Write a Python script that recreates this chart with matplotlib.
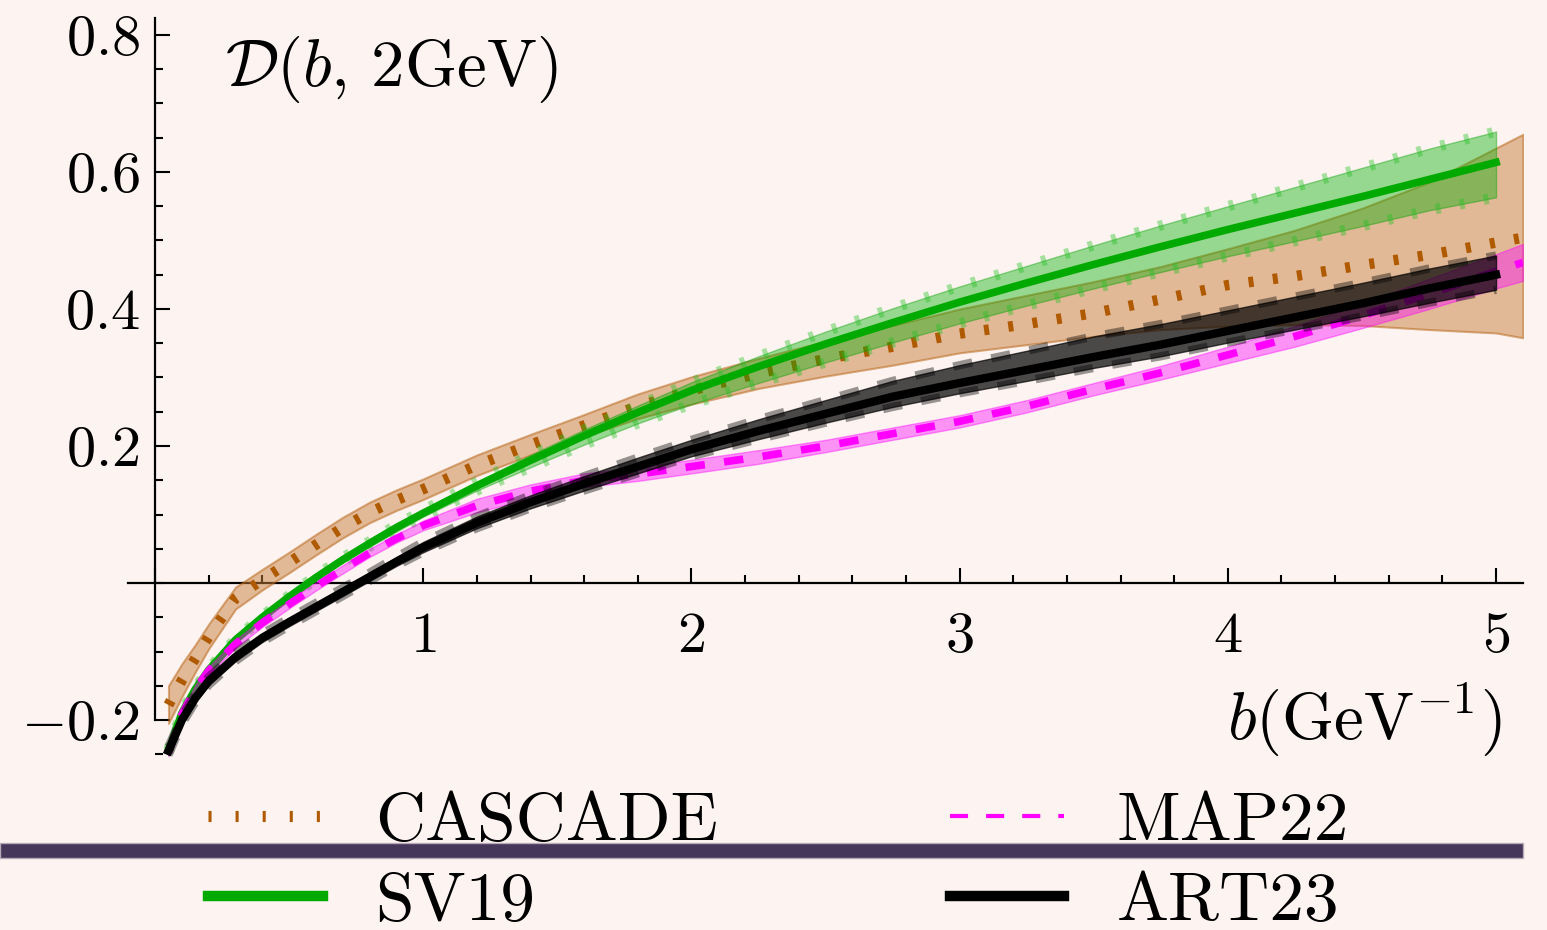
import matplotlib
matplotlib.use("Agg")
import matplotlib.pyplot as plt
from matplotlib.lines import Line2D
from matplotlib.patches import Rectangle
from matplotlib.ticker import FixedLocator, FixedFormatter, MultipleLocator

plt.rcParams['font.family'] = 'serif'
plt.rcParams['font.serif'] = ['cmr10']
plt.rcParams['mathtext.fontset'] = 'cm'
plt.rcParams['axes.formatter.use_mathtext'] = True
plt.rcParams['lines.scale_dashes'] = False

# ---------------- data ----------------
b_grid = [0.05, 0.1, 0.15, 0.2, 0.3, 0.4, 0.5, 0.6, 0.7, 0.8, 0.9, 1.0, 1.2, 1.4, 1.6,
          1.8, 2.0, 2.25, 2.5, 2.75, 3.0, 3.25, 3.5, 3.75, 4.0, 4.25, 4.5, 4.75, 5.0]
b_long = b_grid + [5.1]

cascade_c = [-0.178, -0.142, -0.110, -0.078, -0.022, 0.005, 0.030, 0.056, 0.081, 0.103, 0.121,
             0.137, 0.172, 0.202, 0.230, 0.258, 0.281, 0.306, 0.327, 0.345, 0.364, 0.378,
             0.394, 0.414, 0.435, 0.448, 0.464, 0.479, 0.497, 0.504]
cascade_lo = [-0.205, -0.166, -0.130, -0.096, -0.038, -0.010, 0.015, 0.041, 0.066, 0.088, 0.106,
              0.122, 0.157, 0.187, 0.214, 0.240, 0.261, 0.284, 0.302, 0.318, 0.336, 0.348,
              0.360, 0.370, 0.375, 0.377, 0.376, 0.370, 0.365, 0.358]
cascade_hi = [-0.150, -0.118, -0.090, -0.060, -0.006, 0.020, 0.045, 0.071, 0.096, 0.118, 0.136,
              0.152, 0.187, 0.217, 0.246, 0.276, 0.301, 0.328, 0.353, 0.376, 0.400, 0.420,
              0.440, 0.462, 0.488, 0.515, 0.547, 0.585, 0.635, 0.655]

sv19_c = [-0.245, -0.190, -0.155, -0.127, -0.083, -0.050, -0.020, 0.008, 0.034, 0.058, 0.081,
          0.102, 0.142, 0.179, 0.215, 0.249, 0.281, 0.316, 0.349, 0.380, 0.410, 0.438, 0.465,
          0.491, 0.516, 0.540, 0.564, 0.589, 0.614]
sv19_hi = [-0.243, -0.188, -0.153, -0.125, -0.081, -0.048, -0.018, 0.011, 0.037, 0.061, 0.085,
           0.106, 0.148, 0.187, 0.224, 0.259, 0.293, 0.331, 0.367, 0.401, 0.433, 0.463, 0.493,
           0.522, 0.550, 0.578, 0.606, 0.634, 0.659]
sv19_lo = [-0.247, -0.192, -0.157, -0.129, -0.085, -0.052, -0.022, 0.005, 0.030, 0.053, 0.075,
           0.097, 0.135, 0.169, 0.202, 0.233, 0.261, 0.292, 0.322, 0.351, 0.379, 0.405, 0.430,
           0.454, 0.477, 0.499, 0.521, 0.544, 0.563]

map22_c = [-0.248, -0.192, -0.155, -0.128, -0.089, -0.058, -0.031, -0.005, 0.020, 0.044, 0.065,
           0.084, 0.113, 0.134, 0.150, 0.159, 0.170, 0.184, 0.200, 0.218, 0.236, 0.258, 0.283,
           0.307, 0.333, 0.360, 0.390, 0.422, 0.455, 0.468]
map22_hi = [-0.243, -0.186, -0.149, -0.122, -0.083, -0.052, -0.025, 0.001, 0.026, 0.050, 0.071,
            0.091, 0.123, 0.144, 0.160, 0.169, 0.180, 0.194, 0.209, 0.227, 0.245, 0.267, 0.292,
            0.317, 0.345, 0.375, 0.408, 0.444, 0.480, 0.495]
map22_lo = [-0.253, -0.198, -0.161, -0.134, -0.095, -0.064, -0.037, -0.011, 0.014, 0.038, 0.059,
            0.077, 0.103, 0.124, 0.140, 0.149, 0.160, 0.174, 0.191, 0.209, 0.227, 0.249, 0.274,
            0.297, 0.321, 0.345, 0.372, 0.400, 0.430, 0.441]

art23_c = [-0.245, -0.200, -0.168, -0.143, -0.108, -0.080, -0.057, -0.035, -0.013, 0.009, 0.031,
           0.052, 0.088, 0.118, 0.145, 0.170, 0.195, 0.222, 0.247, 0.272, 0.292, 0.311, 0.330,
           0.348, 0.368, 0.388, 0.408, 0.430, 0.450]
art23_hi = [-0.239, -0.194, -0.162, -0.137, -0.102, -0.074, -0.051, -0.029, -0.007, 0.015, 0.038,
            0.060, 0.097, 0.128, 0.156, 0.183, 0.209, 0.239, 0.267, 0.295, 0.318, 0.339, 0.360,
            0.378, 0.398, 0.418, 0.438, 0.459, 0.478]
art23_lo = [-0.251, -0.206, -0.174, -0.149, -0.114, -0.086, -0.063, -0.041, -0.019, 0.003, 0.025,
            0.045, 0.080, 0.109, 0.135, 0.160, 0.185, 0.210, 0.234, 0.257, 0.277, 0.295, 0.314,
            0.331, 0.351, 0.370, 0.389, 0.409, 0.428]

labels = ['CASCADE', 'SV19', 'MAP22', 'ART23']
y_ticks = [-0.2, 0.2, 0.4, 0.6, 0.8]
y_ticklabels = ['$-0.2$', '$0.2$', '$0.4$', '$0.6$', '$0.8$']
x_ticks = [0, 1, 2, 3, 4, 5]
x_ticklabels = ['', '$1$', '$2$', '$3$', '$4$', '$5$']

# ---------------- figure ----------------
BG = '#fdf4f1'
fig = plt.figure(figsize=(15.47, 9.30), dpi=100)
fig.patch.set_facecolor(BG)
ax = fig.add_axes([0.0829, 0.1816, 0.9015, 0.7992])
ax.set_facecolor(BG)
ax.set_xlim(-0.1, 5.1)
ax.set_ylim(-0.26, 0.825)

# CASCADE
ax.fill_between(b_long, cascade_lo, cascade_hi, facecolor='#c8803f', alpha=0.5,
                edgecolor='#b5600f', linewidth=1.5, zorder=2)
ax.plot(b_long, cascade_c, color='#b05a00', lw=7.5, dashes=(3.6, 14), zorder=2.1)

# SV19
ax.fill_between(b_grid, sv19_lo, sv19_hi, facecolor='#00ae00', alpha=0.4,
                edgecolor='#00a000', linewidth=1.0, zorder=3)
for bound in (sv19_lo, sv19_hi):
    ax.plot(b_grid, bound, color='#22c022', alpha=0.4, lw=7.5, dashes=(3.6, 14), zorder=3.1)
ax.plot(b_grid, sv19_c, color='#00aa00', lw=5.5, zorder=3.2)

# MAP22
ax.fill_between(b_long, map22_lo, map22_hi, facecolor='#ff00ff', alpha=0.4,
                edgecolor='#ff00ff', linewidth=1.0, zorder=4)
ax.plot(b_long, map22_c, color='#ff00ff', lw=5.5, dashes=(14, 14), zorder=4.1)

# ART23
ax.fill_between(b_grid, art23_lo, art23_hi, facecolor='#000000', alpha=0.7,
                edgecolor='#000000', linewidth=1.0, zorder=5)
for bound in (art23_lo, art23_hi):
    ax.plot(b_grid, bound, color='#000000', alpha=0.4, lw=6, dashes=(14, 14), zorder=5.1)
ax.plot(b_grid, art23_c, color='#000000', lw=6, zorder=5.2)

# axes styling
for s in ('top', 'right'):
    ax.spines[s].set_visible(False)
ax.spines['left'].set_position(('data', 0))
ax.spines['bottom'].set_position(('data', 0))
ax.spines['left'].set_bounds(-0.2, 0.825)
ax.spines['bottom'].set_bounds(-0.1, 5.1)
for s in ('left', 'bottom'):
    ax.spines[s].set_linewidth(1.6)
    ax.spines[s].set_zorder(1)

ax.yaxis.set_major_locator(FixedLocator(y_ticks))
ax.yaxis.set_major_formatter(FixedFormatter(y_ticklabels))
ax.yaxis.set_minor_locator(MultipleLocator(0.05))
ax.xaxis.set_major_locator(FixedLocator(x_ticks))
ax.xaxis.set_major_formatter(FixedFormatter(x_ticklabels))
ax.xaxis.set_minor_locator(MultipleLocator(0.2))
ax.tick_params(which='both', direction='in', width=1.5, colors='black')
ax.tick_params(which='major', length=11, labelsize=42)
ax.tick_params(which='minor', length=6)
ax.tick_params(axis='y', which='major', pad=11)
ax.tick_params(axis='x', which='major', pad=21)

ax.text(0.88, 0.749, r'$\mathcal{D}(b,\,2\mathrm{GeV})$', fontsize=48,
        ha='center', va='center')
ax.text(5.02, -0.2, r'$b(\mathrm{GeV}^{-1})$', fontsize=48, ha='right', va='center')

# legend
handles = [
    Line2D([], [], color='#b05a00', lw=8, dashes=(2.2, 17.3)),
    Line2D([], [], color='#00aa00', lw=7.5),
    Line2D([], [], color='#ff00ff', lw=3, dashes=(13, 13)),
    Line2D([], [], color='#000000', lw=7.5),
]
fig.legend(handles, labels, ncol=2, loc='upper left', bbox_to_anchor=(0.1347, 0.149),
           frameon=False, fontsize=50, handlelength=1.65, handletextpad=0.75,
           columnspacing=3.34, labelspacing=0.27, borderpad=0, borderaxespad=0)

fig.add_artist(Rectangle((0, 0.0774), 0.9845, 0.0161, transform=fig.transFigure,
                         facecolor='#45365a', edgecolor='#b8a8b8', lw=1, zorder=10))

fig.savefig('out.png', dpi=100, facecolor=BG)
